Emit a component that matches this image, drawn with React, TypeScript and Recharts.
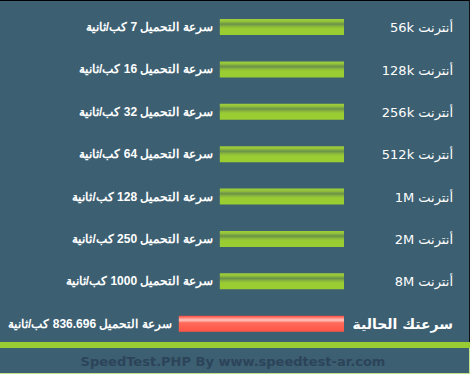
import React from "react";
import { BarChart, Bar, XAxis, YAxis, Cell, LabelList } from "recharts";

const connectionNames = [
  "أنترنت 56k",
  "أنترنت 128k",
  "أنترنت 256k",
  "أنترنت 512k",
  "أنترنت 1M",
  "أنترنت 2M",
  "أنترنت 8M",
  "سرعتك الحالية",
];
const downloadSpeeds = [7, 16, 32, 64, 128, 250, 1000, 836.696];
const barLengths = [100, 100, 100, 100, 100, 100, 100, 133];
const isCurrent = [false, false, false, false, false, false, false, true];

const data = connectionNames.map((name, i) => ({
  name,
  speed: downloadSpeeds[i],
  length: barLengths[i],
  current: isCurrent[i],
}));

const BG = "#3c5f72";
const RLE = "\u202B";
const PDF = "\u202C";

const RightTick = (props: any) => {
  const { x, y, payload, index } = props;
  const cur = isCurrent[index];
  return (
    <text
      x={x + 109}
      y={y}
      dy={cur ? 5 : 5}
      textAnchor="end"
      fill="#ffffff"
      fontFamily="DejaVu Sans, sans-serif"
      fontSize={cur ? 14 : 13}
      fontWeight={cur ? "bold" : "normal"}
    >
      {RLE + payload.value + PDF}
    </text>
  );
};

const LeftLabel = (props: any) => {
  const { x, y, width, height, value } = props;
  const left = Math.min(x, x + width);
  return (
    <text
      x={left - 7}
      y={y + height / 2}
      dy={4}
      textAnchor="end"
      fill="#ffffff"
      fontFamily="Liberation Sans, Arial, sans-serif"
      fontSize={12}
      fontWeight="bold"
    >
      {RLE + "سرعة التحميل " + value + " كب/ثانية" + PDF}
    </text>
  );
};

export default function App() {
  return (
    <div
      style={{
        position: "absolute",
        left: 0,
        top: 0,
        width: 472,
        height: 376,
        background: "#ffffff",
        overflow: "hidden",
      }}
    >
      <div style={{ position: "absolute", left: 0, top: 0, width: 469, height: 373, background: BG }} />
      <div style={{ position: "absolute", left: 0, top: 0, width: 470, height: 1, background: "#000000" }} />
      <div style={{ position: "absolute", left: 469, top: 0, width: 1, height: 348, background: "#111111" }} />
      <div style={{ position: "absolute", left: 469, top: 348, width: 1, height: 26, background: "#bfe08a" }} />
      <div style={{ position: "absolute", left: 0, top: 373, width: 470, height: 1, background: "#bfe08a" }} />
      <div style={{ position: "absolute", left: 0, top: 342, width: 470, height: 6, background: "#99cc33" }} />
      <div style={{ position: "absolute", left: 0, top: 0 }}>
        <BarChart
          width={472}
          height={376}
          data={data}
          layout="vertical"
          margin={{ top: 6, right: 0, bottom: 31, left: 0 }}
          barSize={16}
        >
          <defs>
            <linearGradient id="greenBar" x1="0" y1="0" x2="0" y2="1">
              <stop offset="0%" stopColor="#9fd03a" />
              <stop offset="15%" stopColor="#94c23a" />
              <stop offset="32%" stopColor="#6a9249" />
              <stop offset="50%" stopColor="#8fbd3a" />
              <stop offset="62%" stopColor="#9acd32" />
              <stop offset="100%" stopColor="#9acd32" />
            </linearGradient>
            <linearGradient id="redBar" x1="0" y1="0" x2="0" y2="1">
              <stop offset="0%" stopColor="#f0483a" />
              <stop offset="12%" stopColor="#ff7a70" />
              <stop offset="28%" stopColor="#ffc8c0" />
              <stop offset="45%" stopColor="#ff6a5a" />
              <stop offset="100%" stopColor="#ff5545" />
            </linearGradient>
          </defs>
          <XAxis type="number" hide reversed domain={[0, 277]} />
          <YAxis
            type="category"
            dataKey="name"
            orientation="right"
            width={128}
            axisLine={false}
            tickLine={false}
            tickSize={0}
            tickMargin={0}
            interval={0}
            tick={<RightTick />}
          />
          <Bar dataKey="length" isAnimationActive={false}>
            {data.map((d, i) => (
              <Cell key={i} fill={d.current ? "url(#redBar)" : "url(#greenBar)"} />
            ))}
            <LabelList dataKey="speed" content={<LeftLabel />} />
          </Bar>
        </BarChart>
      </div>
      <div
        style={{
          position: "absolute",
          left: 0,
          top: 353,
          width: 466,
          textAlign: "center",
          fontFamily: "DejaVu Sans, Verdana, sans-serif",
          fontWeight: "bold",
          fontSize: 13,
          lineHeight: "17px",
          color: "#2c4459",
          whiteSpace: "nowrap",
        }}
      >
        SpeedTest.PHP By www.speedtest-ar.com
      </div>
    </div>
  );
}
